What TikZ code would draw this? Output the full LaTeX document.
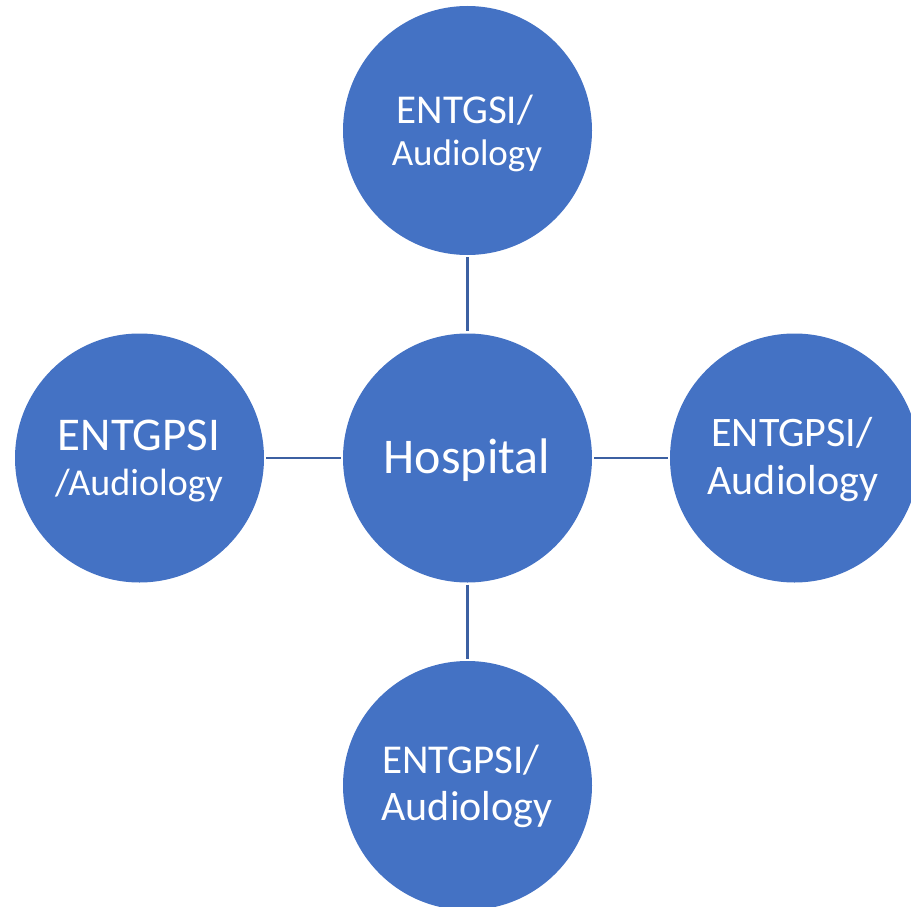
\documentclass[tikz,border=0pt]{standalone}
\usepackage{fontspec}
\setmainfont{Carlito}
\definecolor{cfill}{RGB}{68,114,196}
\definecolor{cline}{RGB}{60,96,162}
\begin{document}
\begin{tikzpicture}[x=1pt,y=-1pt,
  bubble/.style={circle,fill=cfill,draw=none,inner sep=0pt,minimum size=249pt},
  txt/.style={text=white,anchor=base,inner sep=0pt},
  link/.style={draw=cline,line width=2.4pt,shorten <=2pt,shorten >=2pt}]
\useasboundingbox (0,0) rectangle (911,907);
\node[bubble] (hosp) at (467.5,458) {};
\node[bubble] (top) at (467.5,130.5) {};
\node[bubble] (left) at (139.5,458) {};
\node[bubble] (right) at (794.5,458) {};
\node[bubble] (bottom) at (467.5,785.5) {};
\draw[link] (top) -- (hosp);
\draw[link] (left) -- (hosp);
\draw[link] (hosp) -- (right);
\draw[link] (hosp) -- (bottom);
\node[txt,font=\fontsize{50}{50}\selectfont] (t0) at (467,473) {Hospital};
\node[txt,font=\fontsize{41}{41}\selectfont] (t1a) at (465,123) {ENTGSI/};
\node[txt,font=\fontsize{37}{37}\selectfont] (t1b) at (467,165) {Audiology};
\node[txt,font=\fontsize{47}{47}\selectfont] (t2a) at (139,450) {ENTGPSI};
\node[txt,font=\fontsize{38}{38}\selectfont] (t2b) at (139,495) {/Audiology};
\node[txt,font=\fontsize{42}{42}\selectfont] (t3a) at (792,446) {ENTGPSI/};
\node[txt,font=\fontsize{42}{42}\selectfont] (t3b) at (793,494) {Audiology};
\node[txt,font=\fontsize{41}{41}\selectfont] (t4a) at (461,773) {ENTGPSI/};
\node[txt,font=\fontsize{42}{42}\selectfont] (t4b) at (467,820) {Audiology};
\end{tikzpicture}
\end{document}
